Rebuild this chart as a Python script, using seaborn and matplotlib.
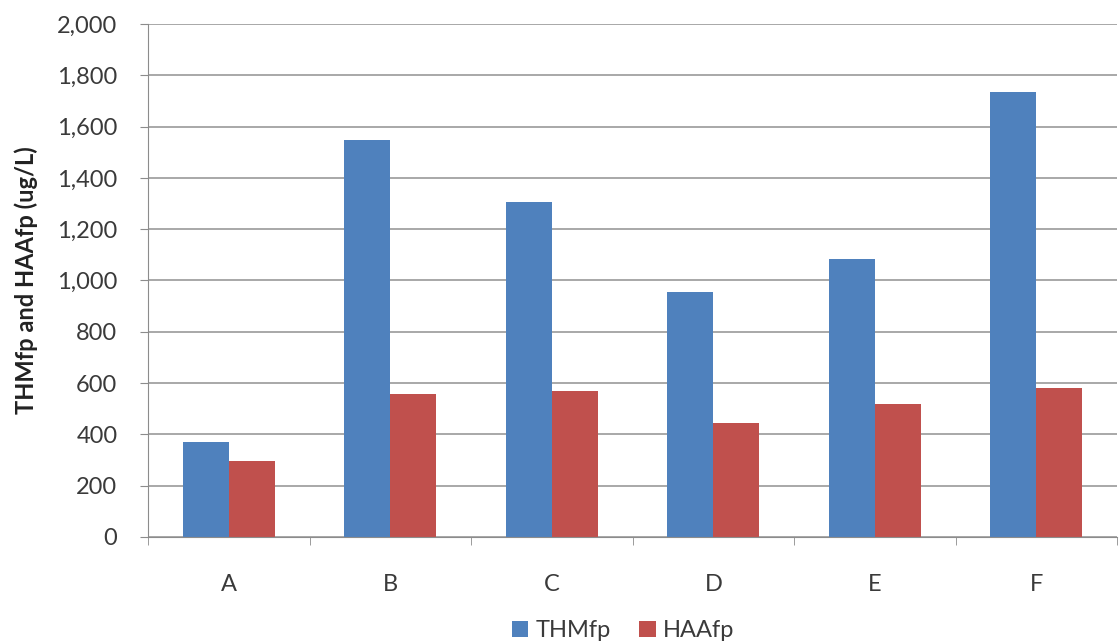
import matplotlib
matplotlib.use("Agg")
import matplotlib.pyplot as plt
import seaborn as sns
import pandas as pd
from matplotlib.ticker import FuncFormatter, FixedLocator

categories = ["A", "B", "C", "D", "E", "F"]
thmfp = [372, 1546, 1306, 956, 1083, 1733]
haafp = [297, 557, 570, 443, 517, 579]
series_names = ["THMfp", "HAAfp"]
colors = ["#4F81BD", "#C0504D"]

df = pd.DataFrame({
    "cat": categories * 2,
    "val": thmfp + haafp,
    "series": [series_names[0]] * len(categories) + [series_names[1]] * len(categories),
})

sns.set_style("white")
plt.rcParams["font.family"] = ["Lato", "DejaVu Sans"]

fig = plt.figure(figsize=(11.19, 6.42), dpi=100)
ax = fig.add_axes([0.1323, 0.1636, 0.866, 0.799])

sns.barplot(data=df, x="cat", y="val", hue="series", palette=colors,
            width=0.57, gap=0, saturation=1, ax=ax, legend=True, errorbar=None,
            linewidth=0)

ax.set_ylim(0, 2000)
ax.set_xlim(-0.5, 5.5)
ax.yaxis.set_major_locator(FixedLocator(range(0, 2001, 200)))
ax.yaxis.set_major_formatter(FuncFormatter(lambda v, p: f"{int(v):,}"))
ax.grid(axis="y", color="#999999", linewidth=1.2)
ax.set_axisbelow(True)

for s in ["top", "right"]:
    ax.spines[s].set_visible(False)
ax.spines["left"].set_color("#8c8c8c")
ax.spines["bottom"].set_color("#8c8c8c")

ax.tick_params(axis="y", which="major", direction="out", length=6, color="#8c8c8c",
               labelsize=17, labelcolor="#3a3a3a", pad=16, left=True)
ax.tick_params(axis="x", which="major", length=0, labelsize=17, labelcolor="#3a3a3a", pad=27)
ax.xaxis.set_minor_locator(FixedLocator([i - 0.5 for i in range(len(categories) + 1)]))
ax.tick_params(axis="x", which="minor", direction="out", length=6, color="#8c8c8c", bottom=True)

ax.set_xlabel("")
ax.set_ylabel("THMfp and HAAfp (ug/L)", fontsize=17, fontweight="bold", color="#222222", labelpad=14)

handles, labels = ax.get_legend_handles_labels()
ax.legend(handles, labels, loc="center", bbox_to_anchor=(0.49, -0.183), ncol=2,
          frameon=False, fontsize=17, handlelength=0.7, handleheight=0.7,
          handletextpad=0.3, columnspacing=1.2, labelcolor="#3a3a3a",
          borderpad=0, borderaxespad=0)

fig.savefig("out.png", dpi=100)
